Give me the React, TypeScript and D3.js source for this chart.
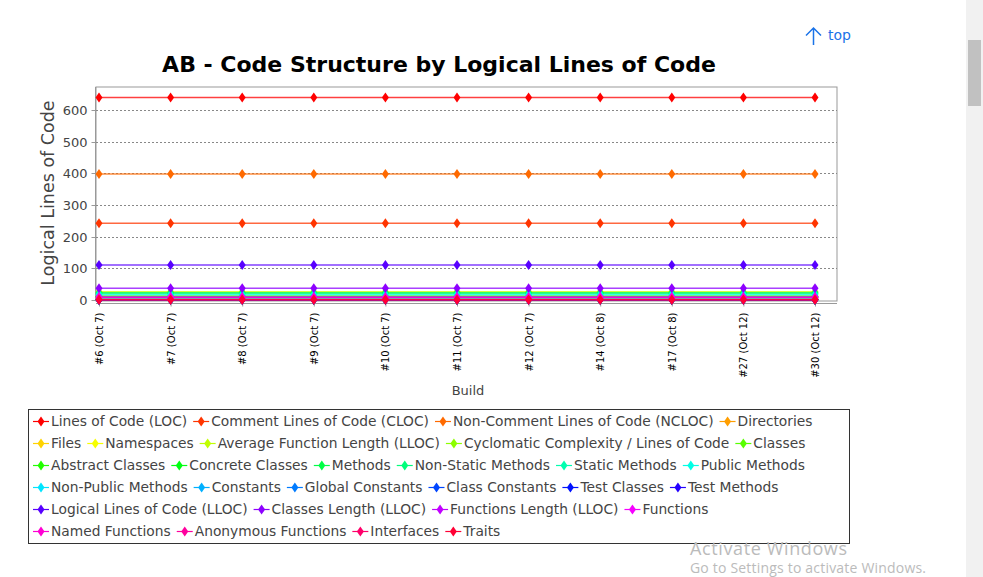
import React, { useEffect, useRef } from "react";
import * as d3 from "d3";

const builds = ["#6 (Oct 7)", "#7 (Oct 7)", "#8 (Oct 7)", "#9 (Oct 7)", "#10 (Oct 7)", "#11 (Oct 7)", "#12 (Oct 7)", "#14 (Oct 8)", "#17 (Oct 8)", "#27 (Oct 12)", "#30 (Oct 12)"];

const seriesNames = [
  "Lines of Code (LOC)", "Comment Lines of Code (CLOC)", "Non-Comment Lines of Code (NCLOC)", "Directories",
  "Files", "Namespaces", "Average Function Length (LLOC)", "Cyclomatic Complexity / Lines of Code", "Classes",
  "Abstract Classes", "Concrete Classes", "Methods", "Non-Static Methods", "Static Methods", "Public Methods",
  "Non-Public Methods", "Constants", "Global Constants", "Class Constants", "Test Classes", "Test Methods",
  "Logical Lines of Code (LLOC)", "Classes Length (LLOC)", "Functions Length (LLOC)", "Functions",
  "Named Functions", "Anonymous Functions", "Interfaces", "Traits",
];

// one value per series, same for every build
const seriesValues = [640, 242, 398, 3, 12, 1, 25, 0.3, 10, 0, 10, 22, 20, 2, 16, 6, 0, 0, 0, 0, 0, 110, 36, 8, 8, 7, 1, 0, 0];

// how many legend entries sit on each legend row
const legendRowCounts = [4, 5, 6, 6, 4, 4];

const yTicks = [0, 100, 200, 300, 400, 500, 600];

const FONT = "'DejaVu Sans', sans-serif";

export default function App() {
  const ref = useRef<SVGSVGElement>(null);

  useEffect(() => {
    const svg = d3.select(ref.current);
    svg.selectAll("*").remove();

    const plot = { left: 96, right: 837, top: 87, bottom: 301 };
    const x = d3.scalePoint<string>().domain(builds).range([99, 815]);
    const y = d3.scaleLinear().domain([-4, 673]).range([plot.bottom, plot.top]);
    const color = (i: number) => d3.hsl((i * 360) / seriesNames.length, 1, 0.5).toString();

    // title
    svg.append("text").attr("x", 439).attr("y", 72).attr("text-anchor", "middle")
      .style("font", `bold 22px ${FONT}`).attr("fill", "#000")
      .text("AB - Code Structure by Logical Lines of Code");

    // plot background + grid
    svg.append("rect").attr("x", plot.left).attr("y", plot.top)
      .attr("width", plot.right - plot.left).attr("height", plot.bottom - plot.top)
      .attr("fill", "#fff").attr("stroke", "#999").attr("stroke-width", 1);

    svg.selectAll(".grid").data(yTicks.filter(d => d > 0)).join("line").attr("class", "grid")
      .attr("x1", plot.left).attr("x2", plot.right)
      .attr("y1", d => Math.round(y(d)) + 0.5).attr("y2", d => Math.round(y(d)) + 0.5)
      .attr("stroke", "#888").attr("stroke-dasharray", "2,2").attr("stroke-width", 1);

    // y axis
    const ya = svg.append("g").attr("transform", `translate(${plot.left - 0.5},0)`);
    ya.append("line").attr("y1", plot.top).attr("y2", plot.bottom).attr("stroke", "#999");
    ya.selectAll("line.t").data(yTicks).join("line").attr("class", "t")
      .attr("x1", -4).attr("x2", 0).attr("y1", d => Math.round(y(d)) + 0.5).attr("y2", d => Math.round(y(d)) + 0.5)
      .attr("stroke", "#999");
    ya.selectAll("text").data(yTicks).join("text")
      .attr("x", -8).attr("y", d => y(d) + 5).attr("text-anchor", "end")
      .style("font", `13px ${FONT}`).attr("fill", "#444").text(d => d);

    svg.append("text").attr("transform", "translate(54,193) rotate(-90)").attr("text-anchor", "middle")
      .style("font", `17.5px ${FONT}`).attr("fill", "#444").text("Logical Lines of Code");

    // x axis
    const xa = svg.append("g").attr("transform", `translate(0,${plot.bottom + 2.5})`);
    xa.append("line").attr("x1", plot.left).attr("x2", plot.right).attr("stroke", "#999");
    xa.selectAll("line.t").data(builds).join("line").attr("class", "t")
      .attr("x1", d => x(d)! + 0.5).attr("x2", d => x(d)! + 0.5).attr("y1", 0).attr("y2", 3).attr("stroke", "#999");
    xa.selectAll("text").data(builds).join("text")
      .attr("transform", d => `translate(${x(d)! + 4},9) rotate(-90)`).attr("text-anchor", "end")
      .style("font", `10px ${FONT}`).attr("fill", "#000").text(d => d);

    svg.append("text").attr("x", 468).attr("y", 395).attr("text-anchor", "middle")
      .style("font", `13px ${FONT}`).attr("fill", "#444").text("Build");

    // series
    const diamond = (cx: number, cy: number, w = 3.5, h = 5) =>
      `M${cx},${cy - h}L${cx + w},${cy}L${cx},${cy + h}L${cx - w},${cy}Z`;
    const series = svg.append("g");
    seriesValues.forEach((v, i) => {
      const g = series.append("g");
      const pts = builds.map(b => [x(b)!, y(v)] as [number, number]);
      g.append("path").attr("d", d3.line()(pts)).attr("fill", "none")
        .attr("stroke", color(i)).attr("stroke-width", 1.5).attr("stroke-opacity", 0.75);
      g.selectAll("path.m").data(pts).join("path").attr("class", "m")
        .attr("d", p => diamond(p[0], p[1])).attr("fill", color(i));
    });

    // legend
    const lg = svg.append("g");
    lg.append("rect").attr("x", 28.5).attr("y", 409.5).attr("width", 821).attr("height", 134)
      .attr("fill", "#fff").attr("stroke", "#333");
    let idx = 0;
    legendRowCounts.forEach((n, r) => {
      let cx = 33;
      const cy = 421 + r * 22;
      for (let k = 0; k < n; k++, idx++) {
        const item = lg.append("g");
        item.append("line").attr("x1", cx).attr("x2", cx + 16).attr("y1", cy + 0.5).attr("y2", cy + 0.5)
          .attr("stroke", color(idx)).attr("stroke-width", 1.2);
        item.append("path").attr("d", diamond(cx + 8, cy + 0.5)).attr("fill", color(idx));
        const t = item.append("text").attr("x", cx + 18).attr("y", cy + 5)
          .style("font", `13.8px ${FONT}`).attr("fill", "#444").text(seriesNames[idx]);
        const w = (t.node() as SVGTextElement).getComputedTextLength();
        cx += 18 + w + 6;
      }
    });

    // page chrome
    const arrow = svg.append("g").attr("stroke", "#1a73e8").attr("stroke-width", 1.5).attr("fill", "none");
    arrow.append("path").attr("d", "M813.5,45V28M806,35.5L813.5,28L821,35.5");
    svg.append("text").attr("x", 828).attr("y", 40)
      .style("font", `14px ${FONT}`).attr("fill", "#1a73e8").text("top");
    svg.append("rect").attr("x", 966).attr("y", 0).attr("width", 17).attr("height", 577).attr("fill", "#f1f1f1");
    svg.append("rect").attr("x", 968).attr("y", 40).attr("width", 13).attr("height", 66).attr("fill", "#c1c1c1");
    svg.append("text").attr("x", 690).attr("y", 555).attr("textLength", 157)
      .style("font", `18px 'Open Sans', sans-serif`).attr("fill", "#bbb").text("Activate Windows");
    svg.append("text").attr("x", 690).attr("y", 573).attr("textLength", 236)
      .style("font", `14px 'Open Sans', sans-serif`).attr("fill", "#bbb").text("Go to Settings to activate Windows.");
  }, []);

  return (
    <svg ref={ref} width={983} height={577}
      style={{ position: "absolute", left: 0, top: 0, background: "#fff" }} />
  );
}
